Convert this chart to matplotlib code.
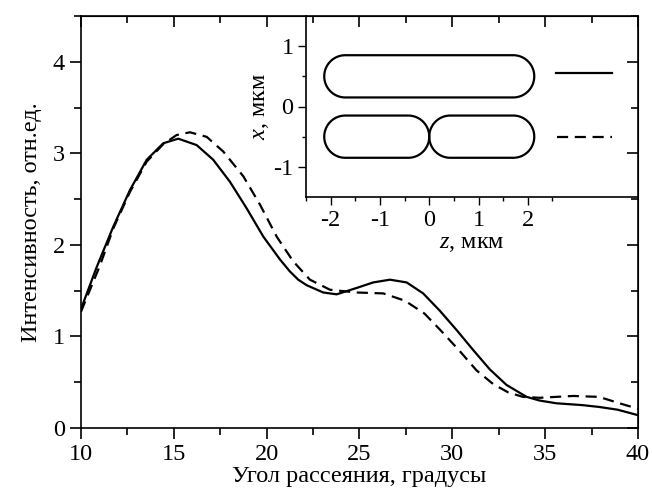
import numpy as np
import matplotlib
matplotlib.use('Agg')
import matplotlib.pyplot as plt
from matplotlib.patches import Polygon
from matplotlib.ticker import MultipleLocator, FixedLocator

plt.rcParams['font.family'] = ['Liberation Serif', 'DejaVu Serif']
plt.rcParams['mathtext.fontset'] = 'custom'
plt.rcParams['mathtext.it'] = 'Liberation Serif:italic'
plt.rcParams['mathtext.rm'] = 'Liberation Serif'

# solid curve
angle_solid = [10.0, 10.85, 11.74, 12.64, 13.54, 14.43, 15.24, 16.23, 17.12, 18.02, 18.92,
               19.82, 20.72, 21.25, 21.7, 22.15, 23.05, 23.77, 24.85, 25.74, 26.64, 27.54,
               28.43, 29.33, 30.23, 31.13, 32.02, 32.92, 34.0, 34.7, 35.6, 37.0, 37.9, 38.9, 40.0]
int_solid = [1.30, 1.76, 2.20, 2.60, 2.93, 3.11, 3.16, 3.09, 2.93, 2.69, 2.40,
             2.09, 1.84, 1.71, 1.62, 1.56, 1.48, 1.46, 1.53, 1.59, 1.62, 1.59,
             1.47, 1.28, 1.07, 0.85, 0.64, 0.47, 0.34, 0.30, 0.27, 0.25, 0.23, 0.20, 0.14]

# dashed curve
angle_dash = [10.0, 11.03, 11.74, 12.64, 13.54, 14.43, 15.15, 15.87, 16.77, 17.66, 18.74,
              19.64, 20.54, 21.43, 22.33, 23.41, 24.85, 26.28, 27.45, 28.5, 29.4, 30.4,
              31.3, 32.2, 33.0, 33.8, 34.7, 35.6, 36.5, 37.9, 39.0, 40.0]
int_dash = [1.27, 1.78, 2.18, 2.58, 2.91, 3.10, 3.20, 3.23, 3.18, 3.02, 2.75,
            2.44, 2.09, 1.82, 1.62, 1.51, 1.48, 1.47, 1.39, 1.25, 1.06, 0.84,
            0.63, 0.48, 0.39, 0.34, 0.33, 0.34, 0.35, 0.34, 0.27, 0.21]

# inset capsules: z start, z end, x centre
cap_z0 = [-2.13, -2.13, 0.0]
cap_z1 = [2.13, 0.0, 2.13]
cap_xc = [0.5, -0.5, -0.5]
cap_r = 0.35

FS = 17.5

fig = plt.figure(figsize=(6.52, 4.97), dpi=100)
ax = fig.add_axes([81 / 652, 1 - 428 / 497, 557 / 652, 412 / 497])

dash = (5, 3)
ax.plot(angle_solid, int_solid, color='k', lw=1.6, solid_joinstyle='round')
ax.plot(angle_dash, int_dash, color='k', lw=1.6, ls=(0, dash))

ax.set_xlim(10, 40)
ax.set_ylim(0, 4.5)
ax.xaxis.set_major_locator(MultipleLocator(5))
ax.xaxis.set_minor_locator(MultipleLocator(2.5))
ax.yaxis.set_major_locator(FixedLocator([0, 1, 2, 3, 4]))
ax.yaxis.set_minor_locator(MultipleLocator(0.5))
ax.tick_params(which='both', direction='out', width=1.2, labelsize=FS)
ax.tick_params(which='major', length=8)
ax.tick_params(which='minor', length=5)
ax.set_xlabel('Угол рассеяния, градусы', fontsize=FS, labelpad=1)
ax.set_ylabel('Интенсивность, отн.ед.', fontsize=FS, labelpad=8)
for s in ax.spines.values():
    s.set_linewidth(1.2)

# inward ticks on top and right
top = ax.secondary_xaxis('top')
top.xaxis.set_major_locator(MultipleLocator(5))
top.xaxis.set_minor_locator(MultipleLocator(2.5))
top.tick_params(which='both', direction='in', labeltop=False, width=1.2)
top.tick_params(which='major', length=8)
top.tick_params(which='minor', length=5)
right = ax.secondary_yaxis('right')
right.yaxis.set_major_locator(FixedLocator([0, 1, 2, 3, 4]))
right.yaxis.set_minor_locator(MultipleLocator(0.5))
right.tick_params(which='both', direction='in', labelright=False, width=1.2)
right.tick_params(which='major', length=8)
right.tick_params(which='minor', length=5)

# inset
ins = fig.add_axes([306 / 652, 1 - 197 / 497, 332 / 652, 181 / 497])
ins.patch.set_alpha(0)
ins.set_xlim(-2.5, -2.5 + 332 / 49.3)
ins.set_ylim(-1.5, 1.5)
ins.xaxis.set_major_locator(FixedLocator([-2, -1, 0, 1, 2]))
ins.xaxis.set_minor_locator(FixedLocator([-2.5, -1.5, -0.5, 0.5, 1.5, 2.5]))
ins.yaxis.set_major_locator(FixedLocator([-1, 0, 1]))
ins.yaxis.set_minor_locator(FixedLocator([-0.5, 0.5]))
ins.set_xticklabels(['-2', '-1', '0', '1', '2'])
ins.set_yticklabels(['-1', '0', '1'])
ins.tick_params(which='both', direction='out', width=1.0, labelsize=FS, pad=3)
ins.tick_params(which='major', length=6)
ins.tick_params(which='minor', length=3)
ins.spines['top'].set_visible(False)
ins.spines['right'].set_visible(False)
for s in ['left', 'bottom']:
    ins.spines[s].set_linewidth(1.2)
ins.set_xlabel('$z$, мкм', fontsize=FS, labelpad=2)
ins.set_ylabel('$x$, мкм', fontsize=FS, labelpad=2)

# capsule outlines (round ends on screen)
rz = cap_r * 60 / 49.3
t1 = np.linspace(-np.pi / 2, np.pi / 2, 60)
t2 = np.linspace(np.pi / 2, 3 * np.pi / 2, 60)
for z0, z1, xc in zip(cap_z0, cap_z1, cap_xc):
    zr = np.concatenate([z1 - rz + rz * np.cos(t1), z0 + rz + rz * np.cos(t2)])
    xr = np.concatenate([xc + cap_r * np.sin(t1), xc + cap_r * np.sin(t2)])
    ins.add_patch(Polygon(np.column_stack([zr, xr]), closed=True, fill=False,
                          edgecolor='k', lw=1.6, joinstyle='round'))

ins.plot([2.58, 3.71], [0.55, 0.55], color='k', lw=1.6, clip_on=False)
ins.plot([2.6, 3.71], [-0.5, -0.5], color='k', lw=1.6, ls=(0, dash), clip_on=False)

fig.savefig('out.png', dpi=100)
